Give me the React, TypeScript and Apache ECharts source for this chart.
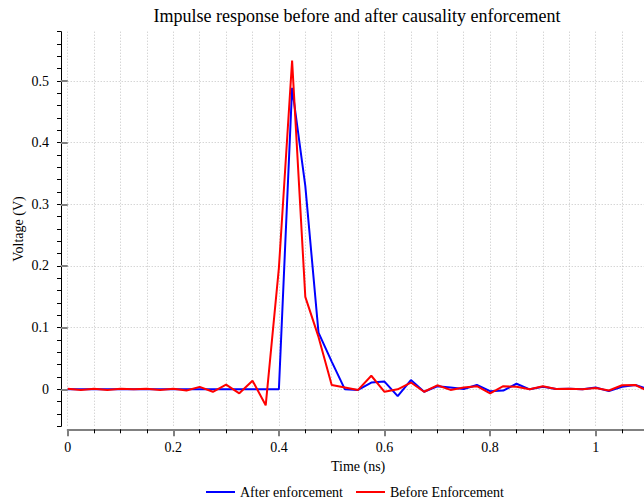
import React, { useEffect, useRef } from "react";
import * as echarts from "echarts";

const TITLE = "Impulse response before and after causality enforcement";
const X_NAME = "Time (ns)";
const Y_NAME = "Voltage (V)";
const SERIES_NAMES = ["After enforcement", "Before Enforcement"];

const TIME_NS = [
  0, 0.025, 0.05, 0.075, 0.1, 0.125, 0.15, 0.175, 0.2, 0.225,
  0.25, 0.275, 0.3, 0.325, 0.35, 0.375, 0.4, 0.425, 0.45, 0.475,
  0.5, 0.525, 0.55, 0.575, 0.6, 0.625, 0.65, 0.675, 0.7, 0.725,
  0.75, 0.775, 0.8, 0.825, 0.85, 0.875, 0.9, 0.925, 0.95, 0.975,
  1.0, 1.025, 1.05, 1.075, 1.1,
];

const AFTER = [
  0, 0, 0, 0, 0, 0, 0, 0, 0, 0,
  0, 0, 0, 0, 0, 0, 0, 0.489, 0.33, 0.092,
  0.045, 0, -0.001, 0.011, 0.0125, -0.011, 0.015, -0.004, 0.005, 0.003,
  0.0005, 0.007, -0.003, -0.002, 0.009, 0, 0.004, 0.0005, 0.001, 0,
  0.003, -0.003, 0.004, 0.007, 0,
];

const BEFORE = [
  0.001, -0.001, 0.001, -0.001, 0.001, 0, 0.001, -0.001, 0.001, -0.002,
  0.004, -0.004, 0.0075, -0.0065, 0.014, -0.026, 0.197, 0.533, 0.15, 0.085,
  0.007, 0.003, -0.001, 0.022, -0.004, 0, 0.011, -0.004, 0.0065, -0.001,
  0.003, 0.005, -0.0065, 0.005, 0.004, 0, 0.005, 0.0005, 0.001, 0,
  0.002, -0.002, 0.0065, 0.007, -0.003,
];

const X_MIN = 0;
const X_MAX = 1.1;
const X_MAJOR = 0.2;
const Y_MIN = -0.06;
const Y_MAX = 0.58;
const Y_MINOR = 0.02;
const Y_MAJOR_MIN = 0;
const Y_MAJOR_MAX = 0.5;
const Y_MAJOR = 0.1;

const FONT = "Liberation Serif";

export default function App() {
  const ref = useRef<HTMLDivElement>(null);

  useEffect(() => {
    document.body.style.margin = "0";
    document.body.style.overflow = "hidden";
    if (!ref.current) return;
    const chart = echarts.init(ref.current, undefined, { renderer: "svg" });

    const dotted = { color: "#c4c4c4", width: 1, type: [1, 2] as number[] };
    const gridLeft = 67.7;
    const gridRight = -4.5;

    const option: any = {
      animation: false,
      backgroundColor: "#ffffff",
      title: {
        text: TITLE,
        left: 357,
        top: 7,
        padding: 0,
        textAlign: "center",
        textStyle: { fontFamily: FONT, fontSize: 18, fontWeight: "normal", color: "#000" },
      },
      legend: {
        data: SERIES_NAMES.map((n) => ({ name: n, icon: "rect" })),
        left: 206,
        top: 485,
        padding: 0,
        itemWidth: 29,
        itemHeight: 2,
        itemGap: 13,
        textStyle: { fontFamily: FONT, fontSize: 14, color: "#000" },
      },
      grid: [
        {
          left: gridLeft,
          right: gridRight,
          top: 31.7,
          bottom: 75.7,
          containLabel: false,
          outerBoundsMode: "none",
        },
        {
          left: gridLeft,
          right: gridRight,
          top: 81,
          bottom: 112.7,
          containLabel: false,
          outerBoundsMode: "none",
        },
      ],
      xAxis: [
        {
          type: "value",
          gridIndex: 0,
          min: X_MIN,
          max: X_MAX,
          interval: X_MAJOR,
          offset: 3,
          name: X_NAME,
          nameLocation: "middle",
          nameGap: 28,
          nameTextStyle: { fontFamily: FONT, fontSize: 14, color: "#000" },
          axisLine: { show: true, onZero: false, lineStyle: { color: "#808080", width: 2 } },
          axisTick: { show: true, length: 7, lineStyle: { color: "#808080", width: 2 } },
          minorTick: { show: true, splitNumber: 4, length: 4, lineStyle: { color: "#000", width: 1 } },
          axisLabel: {
            show: true,
            margin: 11,
            showMaxLabel: false,
            fontFamily: FONT,
            fontSize: 14,
            color: "#000",
          },
          splitLine: { show: true, lineStyle: dotted },
          minorSplitLine: { show: true, lineStyle: dotted },
        },
        {
          type: "value",
          gridIndex: 1,
          min: 0,
          max: 1,
          show: false,
        },
      ],
      yAxis: [
        {
          type: "value",
          gridIndex: 0,
          min: Y_MIN,
          max: Y_MAX,
          interval: Y_MINOR,
          offset: 6.7,
          name: Y_NAME,
          nameLocation: "middle",
          nameGap: 36,
          nameTextStyle: { fontFamily: FONT, fontSize: 14, color: "#000" },
          axisLine: { show: true, onZero: false, lineStyle: { color: "#000", width: 1 } },
          axisTick: { show: true, length: 4, lineStyle: { color: "#000", width: 1 } },
          axisLabel: { show: false },
          splitLine: { show: false },
        },
        {
          type: "value",
          gridIndex: 1,
          min: Y_MAJOR_MIN,
          max: Y_MAJOR_MAX,
          interval: Y_MAJOR,
          offset: 6.7,
          z: 3,
          axisLine: { show: false },
          axisTick: { show: true, length: 7, lineStyle: { color: "#808080", width: 2 } },
          axisLabel: {
            show: true,
            margin: 12,
            fontFamily: FONT,
            fontSize: 14,
            color: "#000",
          },
          splitLine: { show: true, lineStyle: dotted },
        },
      ],
      series: [
        {
          name: SERIES_NAMES[0],
          type: "line",
          xAxisIndex: 0,
          yAxisIndex: 0,
          data: TIME_NS.map((t, i) => [t, AFTER[i]]),
          symbol: "none",
          showSymbol: false,
          clip: true,
          lineStyle: { color: "#0000ff", width: 2 },
          itemStyle: { color: "#0000ff" },
          z: 4,
        },
        {
          name: SERIES_NAMES[1],
          type: "line",
          xAxisIndex: 0,
          yAxisIndex: 0,
          data: TIME_NS.map((t, i) => [t, BEFORE[i]]),
          symbol: "none",
          showSymbol: false,
          clip: true,
          lineStyle: { color: "#ff0000", width: 2 },
          itemStyle: { color: "#ff0000" },
          z: 5,
        },
      ],
    };

    chart.setOption(option);
    return () => {
      chart.dispose();
    };
  }, []);

  return <div ref={ref} style={{ width: 644, height: 502 }} />;
}
